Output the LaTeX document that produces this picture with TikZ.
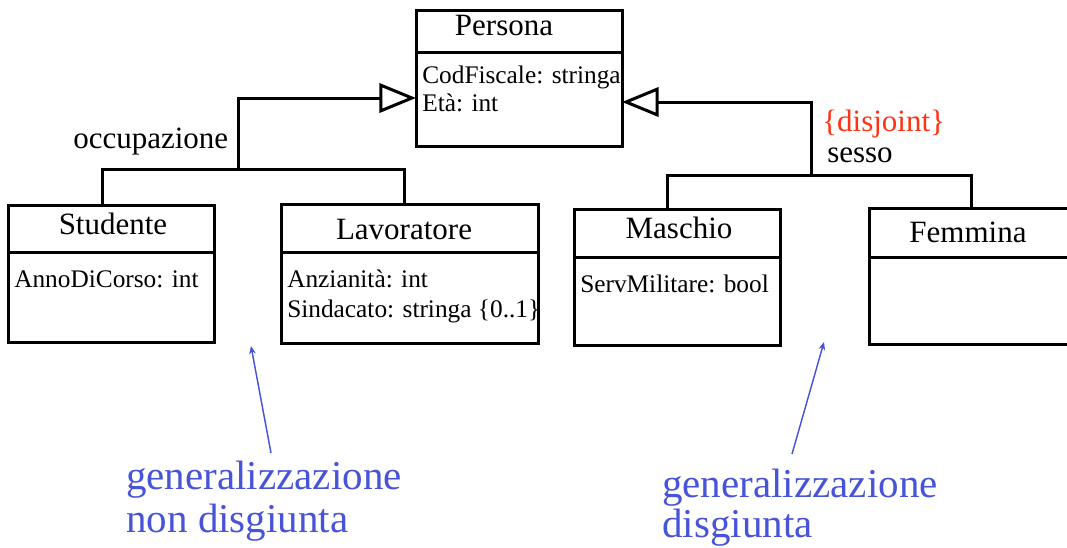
\documentclass[tikz,border=0pt]{standalone}
\usepackage{fontspec}
\setmainfont{Liberation Serif}
\usetikzlibrary{arrows.meta,calc}
\definecolor{noteblue}{RGB}{72,84,216}
\definecolor{notered}{RGB}{255,50,20}
\tikzset{
  classbox/.style={draw=black, line width=2.25pt, inner sep=0pt, outer sep=0pt, anchor=north west},
  divider/.style={line width=2.25pt},
  title/.style={inner sep=0pt, anchor=base, font=\fontsize{23.25}{28}\selectfont},
  attr/.style={inner sep=0pt, anchor=base west, font=\fontsize{19}{23}\selectfont},
  lbl/.style={inner sep=0pt, anchor=base west, font=\fontsize{23.25}{28}\selectfont},
  note/.style={inner sep=0pt, anchor=base west, text=noteblue, font=\fontsize{30.75}{36}\selectfont},
  conn/.style={line width=2.25pt},
  gen/.style={conn, -{Triangle[open, length=27.5pt, width=22pt, line width=2.25pt]}},
  pointer/.style={draw=noteblue, line width=1.1pt, -{Stealth[length=6pt, width=5pt]}}
}
\begin{document}
\begin{tikzpicture}[x=0.75pt, y=-0.75pt]
\clip (0,0) rectangle (1067,547);
\useasboundingbox (0,0) rectangle (1067,547);
% class boxes
\node[classbox, minimum width=206*0.75pt, minimum height=136*0.75pt] (Persona) at (416,10) {};
\node[classbox, minimum width=206*0.75pt, minimum height=137*0.75pt] (Studente) at (8,205) {};
\node[classbox, minimum width=257*0.75pt, minimum height=139*0.75pt] (Lavoratore) at (281,204) {};
\node[classbox, minimum width=206*0.75pt, minimum height=136*0.75pt] (Maschio) at (574,209) {};
\node[classbox, minimum width=206*0.75pt, minimum height=136*0.75pt] (Femmina) at (869,208) {};
% dividers
\draw[divider] (Persona.west |- 0,52) -- (Persona.east |- 0,52);
\draw[divider] (Studente.west |- 0,252) -- (Studente.east |- 0,252);
\draw[divider] (Lavoratore.west |- 0,252) -- (Lavoratore.east |- 0,252);
\draw[divider] (Maschio.west |- 0,257) -- (Maschio.east |- 0,257);
\draw[divider] (Femmina.west |- 0,257) -- (Femmina.east |- 0,257);
% titles
\node[title] (tPersona) at (504,35) {Persona};
\node[title] (tStudente) at (113,234) {Studente};
\node[title] (tLavoratore) at (404,239) {Lavoratore};
\node[title] (tMaschio) at (679,238) {Maschio};
\node[title] (tFemmina) at (968,242) {Femmina};
% attributes
\node[attr] (aP1) at (422,83) {CodFiscale: stringa};
\node[attr] (aP2) at (422,111) {Età: int};
\node[attr] (aS1) at (14,287) {AnnoDiCorso: int};
\node[attr] (aL1) at (287,287) {Anzianità: int};
\node[attr] (aL2) at (287,317) {Sindacato: stringa \{0..1\}};
\node[attr] (aM1) at (580,292) {ServMilitare: bool};
% generalization: occupazione
\coordinate (jL) at (238,169);
\draw[conn] ($(Studente.north)+(-9,0)$) |- ($(Lavoratore.north)+(-5,-35)$) -- ($(Lavoratore.north)+(-5,0)$);
\draw[gen] (jL) |- (Persona.west |- 0,98);
% generalization: sesso
\coordinate (jR) at (811,175);
\draw[conn] ($(Maschio.north)+(-10,0)$) |- ($(Femmina.north)+(-1,-33)$) -- ($(Femmina.north)+(-1,0)$);
\draw[gen] (jR) |- (Persona.east |- 0,102);
% labels
\node[lbl] (occ) at (73,148) {occupazione};
\node[lbl, text=notered] (dis) at (822,131) {\{disjoint\}};
\node[lbl] (ses) at (827,162) {sesso};
% notes
\node[note] (nL1) at (126,489) {generalizzazione};
\node[note] (nL2) at (126,532) {non disgiunta};
\node[note] (nR1) at (662,497) {generalizzazione};
\node[note] (nR2) at (662,537) {disgiunta};
\coordinate (pLs) at (271,453);
\coordinate (pLe) at (251,346);
\coordinate (pRs) at (792,454);
\coordinate (pRe) at (824,342);
\draw[pointer] (pLs) -- (pLe);
\draw[pointer] (pRs) -- (pRe);
\end{tikzpicture}
\end{document}
